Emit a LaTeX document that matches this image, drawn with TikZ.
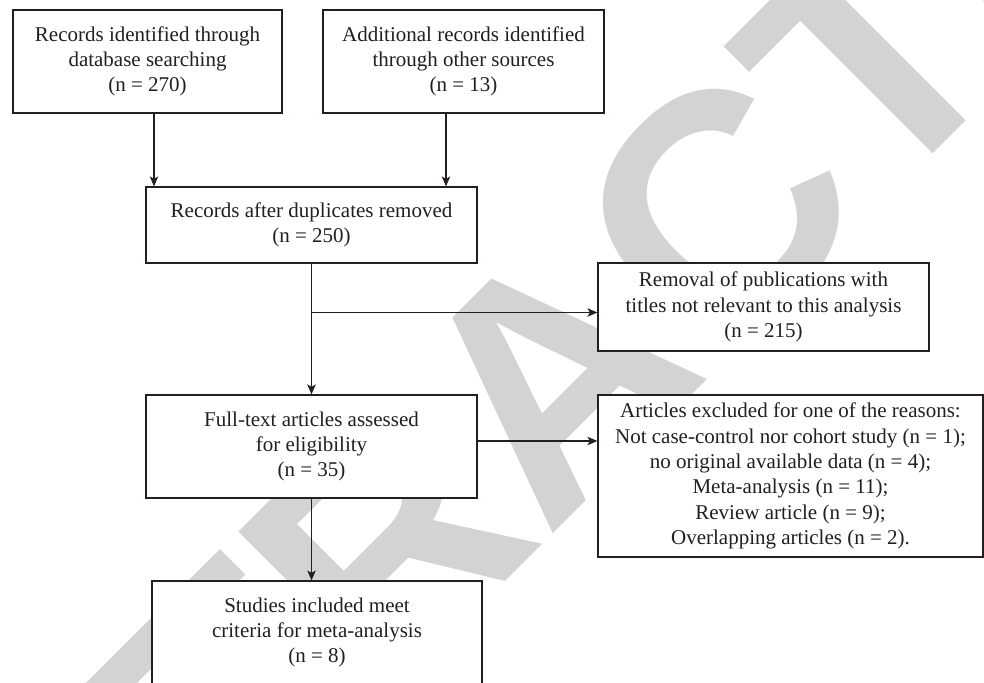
\documentclass[tikz,border=0pt]{standalone}
\usepackage{fontspec}
\setmainfont{Liberation Serif}
\newfontfamily\wmfont{Liberation Sans}
\usetikzlibrary{arrows.meta,calc}
\definecolor{wm}{RGB}{211,211,211}
\definecolor{ink}{RGB}{35,31,32}
\begin{document}
\begin{tikzpicture}[x=1pt,y=-1pt,
  box/.style={draw=ink, fill=white, line width=1.2pt, align=center, inner sep=0pt,
    text=ink, font=\fontsize{21}{25.3}\selectfont},
  arr/.style={draw=ink, line width=1.2pt, -{Stealth[length=10pt,width=8.5pt,inset=2.5pt]}},
  wmark/.style={rotate=45, anchor=base west, inner sep=0pt, text=wm,
    font=\wmfont\bfseries\fontsize{325}{330}\selectfont}
]
\useasboundingbox (0,0) rectangle (984,682);
\fill[white] (0,0) rectangle (984,682);
\node[wmark] (wm) at (-78.5,1165) {RETRACTED};

\node[box, minimum width=269, minimum height=103] (A) at (147.5,61.5)
  {Records identified through\\ database searching\\ (n = 270)};
\node[box, minimum width=281, minimum height=103] (B) at (463.5,61.5)
  {Additional records identified\\ through other sources\\ (n = 13)};
\node[box, minimum width=331, minimum height=76] (C) at (311.5,225)
  {Records after duplicates removed\\ (n = 250)};
\node[box, minimum width=331, minimum height=88] (R) at (763.5,307)
  {Removal of publications with\\ titles not relevant to this analysis\\ (n = 215)};
\node[box, minimum width=331, minimum height=103] (F) at (311.5,446.5)
  {Full-text articles assessed\\ for eligibility\\ (n = 35)};
\node[box, minimum width=385, minimum height=162] (E) at (790.5,476)
  {Articles excluded for one of the reasons:\\
   Not case-control nor cohort study (n = 1);\\
   no original available data (n = 4);\\
   Meta-analysis (n = 11);\\
   Review article (n = 9);\\
   Overlapping articles (n = 2).};
\node[box, minimum width=330, minimum height=103] (S) at (317,632.5)
  {Studies included meet\\ criteria for meta-analysis\\ (n = 8)};

\coordinate (br) at (311.5,312.5);

\draw[arr] ([xshift=6.5pt]A.south) -- ([xshift=6.5pt]A.south |- C.north);
\draw[arr] ([xshift=-17.5pt]B.south) -- ([xshift=-17.5pt]B.south |- C.north);
\draw[arr] (C.south) -- (F.north);
\draw[arr] (br) -- (br -| R.west);
\draw[arr] ([yshift=5.5pt]F.east) -- ([yshift=5.5pt]F.east -| E.west);
\draw[arr] (F.south) -- (F.south |- S.north);
\end{tikzpicture}
\end{document}
